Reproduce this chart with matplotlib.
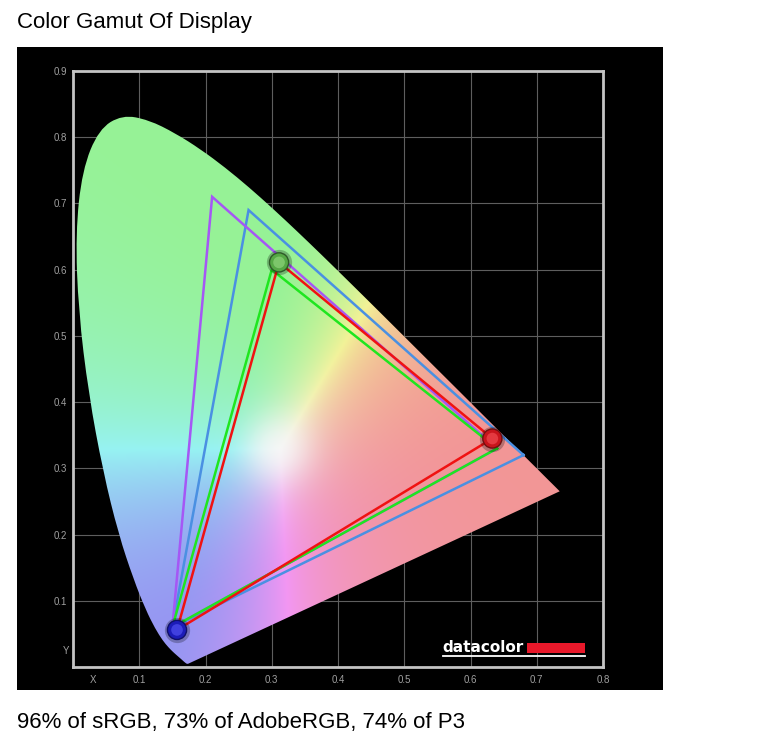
import numpy as np
import matplotlib.pyplot as plt
from matplotlib.patches import PathPatch, Rectangle
from matplotlib.path import Path

plt.rcParams['font.family'] = ['Liberation Sans', 'DejaVu Sans']

# CIE 1931 spectral locus, 380..700 nm in 5 nm steps
locus_x = [0.1741, 0.1740, 0.1738, 0.1736, 0.1733, 0.1730, 0.1726, 0.1721, 0.1714, 0.1703,
           0.1689, 0.1669, 0.1644, 0.1611, 0.1566, 0.1510, 0.1440, 0.1355, 0.1241, 0.1096,
           0.0913, 0.0687, 0.0454, 0.0235, 0.0082, 0.0039, 0.0139, 0.0389, 0.0743, 0.1142,
           0.1547, 0.1929, 0.2296, 0.2658, 0.3016, 0.3373, 0.3731, 0.4087, 0.4441, 0.4788,
           0.5125, 0.5448, 0.5752, 0.6029, 0.6270, 0.6482, 0.6658, 0.6801, 0.6915, 0.7006,
           0.7079, 0.7140, 0.7190, 0.7230, 0.7260, 0.7283, 0.7300, 0.7311, 0.7320, 0.7327,
           0.7334, 0.7340, 0.7344, 0.7346, 0.7347]
locus_y = [0.0050, 0.0050, 0.0049, 0.0049, 0.0048, 0.0048, 0.0048, 0.0048, 0.0051, 0.0058,
           0.0069, 0.0086, 0.0109, 0.0138, 0.0177, 0.0227, 0.0297, 0.0399, 0.0578, 0.0868,
           0.1327, 0.2007, 0.2950, 0.4127, 0.5384, 0.6548, 0.7502, 0.8120, 0.8338, 0.8262,
           0.8059, 0.7816, 0.7543, 0.7243, 0.6923, 0.6589, 0.6245, 0.5896, 0.5547, 0.5202,
           0.4866, 0.4544, 0.4242, 0.3965, 0.3725, 0.3514, 0.3340, 0.3197, 0.3083, 0.2993,
           0.2920, 0.2859, 0.2809, 0.2770, 0.2740, 0.2717, 0.2700, 0.2689, 0.2680, 0.2673,
           0.2666, 0.2660, 0.2656, 0.2654, 0.2653]

# gamut triangles, vertices R, G, B
adobe_x = [0.64, 0.21, 0.15]
adobe_y = [0.33, 0.71, 0.06]
p3_x = [0.68, 0.265, 0.15]
p3_y = [0.32, 0.69, 0.06]
srgb_x = [0.64, 0.30, 0.15]
srgb_y = [0.33, 0.60, 0.06]
disp_x = [0.633, 0.311, 0.157]
disp_y = [0.345, 0.611, 0.056]

x_ticks = [0.1, 0.2, 0.3, 0.4, 0.5, 0.6, 0.7, 0.8]
y_ticks = [0.1, 0.2, 0.3, 0.4, 0.5, 0.6, 0.7, 0.8, 0.9]

W, H = 761, 750
fig = plt.figure(figsize=(W / 100, H / 100), dpi=100)

# black panel behind the plot
bg = fig.add_axes([17 / W, 1 - 690 / H, 646 / W, 643 / H])
bg.set_facecolor('black')
bg.set_xticks([])
bg.set_yticks([])
for s in bg.spines.values():
    s.set_visible(False)

ax = fig.add_axes([73 / W, 1 - 667 / H, 530 / W, 596 / H])
ax.set_facecolor('black')
ax.set_xlim(0, 0.8)
ax.set_ylim(0, 0.9)

# colour fill of the horseshoe
n = 600
gx, gy = np.meshgrid(np.linspace(0, 0.8, n), np.linspace(0, 0.9, n))
gys = np.maximum(gy, 1e-3)
X = gx / gys
Z = (1 - gx - gy) / gys
r = 3.2406 * X - 1.5372 - 0.4986 * Z
g = -0.9689 * X + 1.8758 + 0.0415 * Z
b = 0.0557 * X - 0.2040 + 1.0570 * Z
rgb = np.clip(np.stack([r, g, b], -1), 0, None)
rgb = rgb / np.maximum(rgb.max(axis=-1, keepdims=True), 1e-6)
rgb = rgb ** 1.4
rgb = 0.59 + 0.36 * rgb
# soft white glow round the white point
w = 0.75 * np.exp(-(((gx - 0.31) ** 2 + (gy - 0.33) ** 2) / 0.05 ** 2))[..., None]
rgb = rgb * (1 - w) + 0.97 * w

# smooth outline: quadratic segments through the midpoints of the locus points
pts = np.column_stack([locus_x, locus_y])
mids = (pts + np.roll(pts, -1, axis=0)) / 2
verts = [mids[-1]]
codes = [Path.MOVETO]
for i in range(len(pts)):
    verts += [pts[i], mids[i]]
    codes += [Path.CURVE3, Path.CURVE3]
verts.append(mids[-1])
codes.append(Path.CLOSEPOLY)
shoe = PathPatch(Path(verts, codes), facecolor='none', edgecolor='none',
                 transform=ax.transData)
ax.add_patch(shoe)
im = ax.imshow(rgb, origin='lower', extent=(0, 0.8, 0, 0.9), aspect='auto',
               interpolation='bilinear', zorder=1)
im.set_clip_path(shoe)

# triangles
def tri(xs, ys, color):
    ax.plot(xs + xs[:1], ys + ys[:1], color=color, lw=1.8, zorder=3,
            solid_joinstyle='miter')

tri(p3_x, p3_y, '#4a90e2')
tri(adobe_x, adobe_y, '#a557f5')
tri(srgb_x, srgb_y, '#1fe61f')
tri(disp_x, disp_y, '#f01212')

# glossy balls on the measured primaries
ax.scatter(disp_x, disp_y, s=330, c='black', alpha=0.25, lw=0, zorder=4)
ax.scatter(disp_x, disp_y, s=190, c=['#c8141c', '#55a845', '#1c1cb8'],
           edgecolors=['#701010', '#2e5a28', '#10106a'], lw=1.0, zorder=5)
ax.scatter(disp_x, disp_y, s=70, c=['#f04a50', '#8ed47a', '#5050f0'], lw=0,
           alpha=0.7, zorder=6)

# box, grid, ticks
for s in ax.spines.values():
    s.set_color('#c4c4c4')
    s.set_linewidth(2.0)
    s.set_zorder(7)
ax.set_xticks(x_ticks)
ax.set_yticks(y_ticks)
ax.set_xticklabels([f'{v:.1f}' for v in x_ticks])
ax.set_yticklabels([f'{v:.1f}' for v in y_ticks])
ax.tick_params(length=0, colors='#a0a0a0', labelsize=7, pad=6)
ax.tick_params(axis='y', pad=4)
ax.grid(color='#5e5e5e', lw=0.8, zorder=0)
ax.set_axisbelow(True)
ax.text(0.03, -0.019, 'X', color='#a0a0a0', fontsize=7, ha='center', va='center')
ax.text(-0.006, 0.024, 'Y', color='#a0a0a0', fontsize=7, ha='right', va='center')

# datacolor logo
ax.text(0.558, 0.029, 'datacolor', color='white', fontsize=11, fontweight='bold',
        family='DejaVu Sans', ha='left', va='center', zorder=8)
ax.add_patch(Rectangle((0.686, 0.021), 0.087, 0.015, color='#e8182a', lw=0, zorder=8))
ax.plot([0.558, 0.773], [0.0165, 0.0165], color='white', lw=1.3, zorder=8)

fig.text(17 / W, 1 - 28 / H, 'Color Gamut Of Display', fontsize=16, va='baseline')
fig.text(17 / W, 1 - 728 / H, '96% of sRGB, 73% of AdobeRGB, 74% of P3', fontsize=16,
         va='baseline')

fig.savefig('out.png', dpi=100, facecolor='white')
